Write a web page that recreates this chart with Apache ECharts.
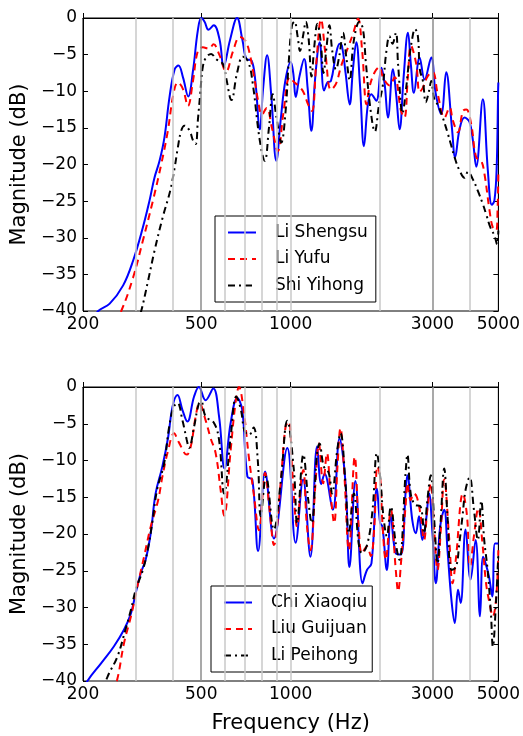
<!DOCTYPE html>
<html><head><meta charset="utf-8">
<script src="https://cdn.jsdelivr.net/npm/echarts@6/dist/echarts.min.js"></script>
<style>html,body{margin:0;padding:0;background:#fff}#c{width:523px;height:736px}</style>
</head><body><div id="c"></div>
<script>
// ---- tick / grid positions ----
const xTickLabels = [200, 500, 1000, 3000, 5000];
const gridFreqs = [300, 400, 500, 600, 700, 800, 900, 1000, 2000, 3000, 4000];
const darkGridFreqs = [500, 3000];

// ---- top panel ----
const topNames = ['Li Shengsu', 'Li Yufu', 'Shi Yihong'];
const lsF = [215,225,246,273,295,318,335,348,362,376,391,407,419,434,452,469,487,500,513,529,551,576,595,625,660,688,710,738,760,787,808,833,860,895,925,960,1000,1020,1040,1070,1110,1140,1174,1210,1252,1295,1330,1366,1420,1462,1488,1530,1580,1620,1663,1710,1764,1820,1868,1941,2019,2071,2125,2209,2265,2326,2400,2481,2540,2598,2716,2823,2972,3074,3211,3337,3487,3577,3701,3847,3998,4104,4211,4433,4608,4753,4850,4935,4990,5000];
const lsV = [-41.5,-40.0,-39.0,-36.5,-33.1,-28.6,-24.9,-21.8,-19.5,-16.3,-10.8,-7.0,-6.5,-8.1,-10.7,-7.2,-1.7,0,-0.5,-1.6,-1.0,-2.9,-6.6,-3.0,0,-3.0,-5.6,-5.8,-8.5,-15.2,-9.5,-5.1,-10.5,-19.5,-14,-8.5,-6.0,-7.5,-10.8,-8,-5.6,-9.5,-15.4,-8,-3.3,-9.9,-8.8,-8.6,-5.0,-3.5,-3.8,-7.5,-11.8,-7.0,-3.3,-9,-17.5,-11.7,-10.4,-11.3,-6.8,-9.0,-13.6,-7.0,-10.5,-15.2,-8,-2.0,-6.5,-10.2,-5.4,-8.4,-5.4,-10.2,-13.1,-7.4,-14.9,-19.0,-15.2,-13.6,-14.2,-16.7,-20.3,-11.1,-20.8,-25.5,-24.9,-20.4,-10,-8.8];
const lyF = [255,269,295,318,344,367,386,403,417,434,451,469,487,506,530,550,575,606,640,674,700,719,747,777,800,830,865,905,945,993,1030,1059,1100,1150,1180,1220,1265,1310,1366,1420,1480,1560,1620,1685,1740,1800,1840,1917,1990,2045,2152,2238,2352,2414,2480,2540,2646,2716,2786,2895,3005,3126,3295,3426,3515,3654,3800,3900,4051,4210,4376,4490,4670,4790,4915,4970,5000];
const lyV = [-41.5,-40,-35.4,-30.4,-24.9,-19.9,-15.4,-10.4,-8.8,-9.7,-12.0,-8.6,-4.5,-4.0,-4.2,-3.6,-5.0,-7.3,-4.5,-2.6,-3.0,-4.0,-7.2,-11.3,-13.2,-12.3,-15.0,-18.2,-13.0,-8.1,-8.8,-9.2,-10.0,-12.0,-12.7,-6,-0.2,-5.0,-9.8,-9.0,-6.5,-4.0,-2.2,-0.1,-4.5,-11.8,-9.5,-7.4,-6.7,-8.1,-9.2,-8.1,-12.7,-13.6,-8,-3.8,-6.3,-10.1,-9.5,-7.9,-7.4,-10.4,-13.6,-12.2,-14.0,-15.6,-12.7,-12.5,-14.5,-19.0,-19.5,-21.3,-26.3,-28.6,-29.0,-26,-21.3];
const syF = [300,314,331,348,371,393,407,417,428,439,457,469,479,487,496,506,519,540,561,592,606,632,660,690,720,745,787,818,845,870,895,930,960,985,1010,1030,1055,1075,1100,1125,1150,1175,1200,1230,1260,1290,1320,1350,1380,1420,1460,1500,1540,1580,1620,1660,1700,1750,1790,1850,1920,1980,2045,2100,2150,2200,2260,2300,2380,2440,2500,2560,2620,2680,2720,2786,2850,2920,2972,3040,3140,3250,3380,3470,3560,3700,3847,3950,4100,4265,4433,4550,4700,4850,4950,5000];
const syV = [-42.5,-40,-35.9,-31.8,-27.2,-23.6,-20.4,-17.7,-15.4,-14.7,-15.4,-16.7,-17.2,-14.0,-10.4,-6.7,-5.4,-4.9,-5.6,-6.3,-8.1,-11.2,-7.5,-5.3,-6.0,-8.9,-16.7,-19.5,-15,-10.4,-13.5,-17,-13,-6,-1.0,-0.5,-2.5,-4.5,-2.5,-0.5,-3,-8,-4,-0.8,-3,-7.5,-4,-1,-4.5,-7,-5,-2,-5.5,-8.5,-4,-1.5,-0.5,-1.5,-6,-12,-15.5,-12,-9,-4.5,-2.5,-3.5,-2.0,-6.5,-13,-10,-6,-3,-1.5,-2.5,-7,-8.6,-11.5,-10,-8.6,-11,-12,-13.6,-15.8,-17.4,-19,-20.8,-21.8,-21,-22,-23.6,-25.4,-26.8,-28.6,-29.7,-30.9,-29];

// ---- bottom panel ----
const botNames = ['Chi Xiaoqiu', 'Liu Guijuan', 'Li Peihong'];
const cxF = [200,207,230,254,275,290,301,313,325,338,351,370,387,400,416,432,449,473,491,517,549,574,599,628,661,687,715,743,777,820,878,974,1039,1101,1165,1227,1267,1300,1386,1460,1529,1577,1651,1745,1806,1870,1950,2000,2036,2107,2172,2258,2347,2440,2470,2566,2636,2704,2775,2848,2923,3000,3080,3185,3286,3371,3476,3566,3658,3733,3878,4030,4192,4336,4439,4529,4650,4770,4870,5000];
const cxV = [-41.5,-40,-37.6,-35.3,-33.0,-30.8,-28.0,-25.3,-23.5,-19.9,-14.5,-10.8,-6.8,-2.7,-1.1,-3.1,-4.7,-1.3,0,-1.8,-0.2,-4.0,-11.1,-4.9,-1.5,-3.1,-12.2,-12.6,-22.3,-11.5,-20.6,-8.3,-21.2,-12.6,-23.1,-8.1,-13.2,-11.8,-16.7,-7.0,-13.0,-24.5,-12.8,-26.7,-24.9,-24.0,-13.8,-18.5,-19.0,-24.9,-17.6,-22.6,-22.8,-14.0,-12.0,-18.1,-19.9,-17.6,-20.8,-18.5,-14.5,-19.9,-26.7,-19.0,-16.7,-22.2,-29.0,-32.1,-27.6,-29.4,-19.4,-26.2,-20.8,-31.2,-23.1,-24.0,-25.8,-28.5,-21.3,-21.3];
const lgF = [250,260,275,290,305,321,338,358,370,387,405,420,447,461,479,493,517,538,559,581,597,628,652,670,694,723,751,782,820,849,878,925,961,986,1012,1051,1087,1103,1132,1165,1212,1244,1286,1325,1359,1401,1437,1471,1510,1571,1643,1694,1738,1806,1860,1909,1959,2000,2036,2090,2172,2258,2300,2350,2440,2470,2535,2600,2660,2740,2810,2884,2961,3040,3120,3200,3286,3418,3506,3595,3800,3920,4016,4137,4280,4420,4545,4669,4790,4920,5000];
const lgV = [-41.5,-40,-34.8,-31.2,-27.1,-23.1,-19.0,-15.4,-12.2,-8.6,-6.3,-7.5,-9.2,-8.1,-4.0,-2.2,-4.5,-7.0,-9.0,-14.0,-17.5,-8.6,-2.2,0,-3.1,-9.5,-14.5,-19.5,-11.7,-16.7,-21.5,-13.1,-5.4,-4.7,-11.3,-19.0,-12.2,-11.3,-18.5,-22.2,-13.1,-7.7,-13.1,-9.0,-14.0,-18.5,-10.8,-5.6,-10.8,-22.2,-9.5,-19.0,-22.6,-21.7,-23.0,-19.4,-10.8,-12.2,-18.5,-23.5,-16.7,-24.9,-27.8,-24,-15.8,-13.1,-15.4,-14.5,-15.0,-17.6,-20.8,-16.7,-13.1,-19.4,-24.9,-19.5,-12.6,-20.8,-26.7,-23.5,-14.5,-17.5,-24.4,-20.3,-16.5,-21.3,-26.7,-29.4,-31.2,-28.5,-22.2];
const lpF = [230,242,261,278,290,301,318,330,342,355,375,390,404,416,432,447,455,473,491,500,517,552,574,597,628,656,680,700,725,750,775,793,826,878,925,974,1025,1051,1103,1146,1176,1227,1250,1292,1343,1378,1434,1471,1529,1569,1632,1694,1738,1813,1886,1950,2000,2052,2107,2172,2258,2320,2440,2470,2535,2620,2740,2810,2884,2961,3040,3120,3200,3286,3371,3476,3600,3694,3786,3878,4000,4137,4265,4380,4480,4600,4720,4790,4920,5000];
const lpV = [-42,-39.4,-36.7,-33.0,-30.3,-27.6,-24.9,-22.2,-18.5,-14.0,-10.4,-5.4,-2.7,-2.2,-4.5,-7.2,-8.3,-5.4,-2.2,-2.0,-4.0,-4.9,-7.2,-14.5,-6.8,-1.3,-3.1,-6.0,-6.5,-5.5,-10,-17.6,-12.2,-19.4,-13,-4.6,-11.3,-18.5,-9.2,-15.4,-18.5,-9.0,-7.7,-10.8,-11.7,-14.5,-8.6,-6.3,-13.1,-19.9,-14.5,-21.3,-22.6,-21.3,-16.7,-9.0,-12.2,-17.6,-20.3,-16.3,-21.3,-23.5,-11.3,-9.2,-14.5,-16,-16.3,-19.9,-15.4,-12.0,-18,-24.0,-18,-11.1,-17.6,-24.9,-24.5,-21.3,-17.6,-14.0,-12.3,-16.7,-20.8,-15.5,-20.8,-24.9,-30.8,-35.3,-28.5,-22.6];

const FONT = 'DejaVu Sans';
const fmtY = v => (v < 0 ? '\u2212' + Math.abs(v) : String(v));

function pairs(f, v) { return f.map((x, i) => [x, v[i]]); }
function curve(name, f, v, color, type, xi, yi) {
  return {
    name, type: 'line', xAxisIndex: xi, yAxisIndex: yi, data: pairs(f, v),
    showSymbol: false, symbol: 'none', smooth: 0.4, clip: true, z: 3,
    lineStyle: { color, width: 2, type }, itemStyle: { color }
  };
}
function gridCarrier(xi, yi) {
  return {
    type: 'line', xAxisIndex: xi, yAxisIndex: yi, data: [], z: 1, silent: true,
    markLine: {
      silent: true, symbol: ['none', 'none'], label: { show: false }, animation: false,
      lineStyle: { color: '#c8c8c8', width: 1.5, type: 'solid' },
      data: gridFreqs.map(f => ({
        xAxis: f,
        lineStyle: { color: darkGridFreqs.includes(f) ? '#8c8c8c' : '#c8c8c8', width: 1.5, type: 'solid' }
      }))
    }
  };
}
function xAx(gi, withName) {
  const a = {
    gridIndex: gi, type: 'log', logBase: 10, min: 200, max: 5000,
    axisLine: { show: true, lineStyle: { color: '#000', width: 1 } },
    axisTick: { show: true, inside: true, length: 5, customValues: xTickLabels, lineStyle: { color: '#000' } },
    axisLabel: { show: true, customValues: xTickLabels, formatter: v => String(Math.round(v)), fontSize: 17, color: '#000', fontFamily: FONT, margin: 5 },
    splitLine: { show: false }, minorTick: { show: false }, minorSplitLine: { show: false }
  };
  if (withName) {
    a.name = 'Frequency (Hz)'; a.nameLocation = 'middle'; a.nameGap = 32;
    a.nameTextStyle = { fontSize: 21, color: '#000', fontFamily: FONT };
  }
  return a;
}
function yAx(gi, right) {
  const a = {
    gridIndex: gi, type: 'value', min: -40, max: 0, interval: 5, position: right ? 'right' : 'left',
    axisLine: { show: true, lineStyle: { color: '#000', width: 1 } },
    axisTick: { show: true, inside: true, length: 5, lineStyle: { color: '#000' } },
    axisLabel: right ? { show: false } : { show: true, formatter: fmtY, fontSize: 17, color: '#000', fontFamily: FONT, margin: 6 },
    splitLine: { show: false }
  };
  if (!right) {
    a.name = 'Magnitude (dB)'; a.nameLocation = 'middle'; a.nameGap = 47;
    a.nameTextStyle = { fontSize: 21, color: '#000', fontFamily: FONT };
  }
  return a;
}
function legendBox(names, left, top, padRight) {
  return {
    data: names, orient: 'vertical', left, top,
    backgroundColor: '#fff', borderColor: '#000', borderWidth: 1, borderRadius: 0,
    padding: [8, padRight, 8, 12], itemWidth: 28, itemHeight: 14, itemGap: 9.5,
    itemStyle: { opacity: 0 },
    lineStyle: { width: 2 },
    textStyle: { fontSize: 17, color: '#000', fontFamily: FONT, padding: [0, 0, 0, 14] },
    selectedMode: false
  };
}

const chart = echarts.init(document.getElementById('c'), null, { renderer: 'canvas' });
chart.setOption({
  animation: false,
  backgroundColor: '#fff',
  grid: [
    { left: 83, top: 18, width: 416, height: 293, show: true, borderColor: '#000', borderWidth: 1, backgroundColor: 'transparent' },
    { left: 83, top: 387, width: 416, height: 294, show: true, borderColor: '#000', borderWidth: 1, backgroundColor: 'transparent' }
  ],
  xAxis: [xAx(0, false), xAx(1, true)],
  yAxis: [yAx(0, false), yAx(0, true), yAx(1, false), yAx(1, true)],
  legend: [legendBox(topNames, 215, 216, 8), legendBox(botNames, 211, 586, 5)],
  series: [
    gridCarrier(0, 0),
    gridCarrier(1, 2),
    curve(topNames[0], lsF, lsV, '#0000ff', 'solid', 0, 0),
    curve(topNames[1], lyF, lyV, '#ff0000', [7, 5], 0, 0),
    curve(topNames[2], syF, syV, '#000000', [7, 4, 2, 4], 0, 0),
    curve(botNames[0], cxF, cxV, '#0000ff', 'solid', 1, 2),
    curve(botNames[1], lgF, lgV, '#ff0000', [7, 5], 1, 2),
    curve(botNames[2], lpF, lpV, '#000000', [7, 4, 2, 4], 1, 2)
  ]
});
</script></body></html>
